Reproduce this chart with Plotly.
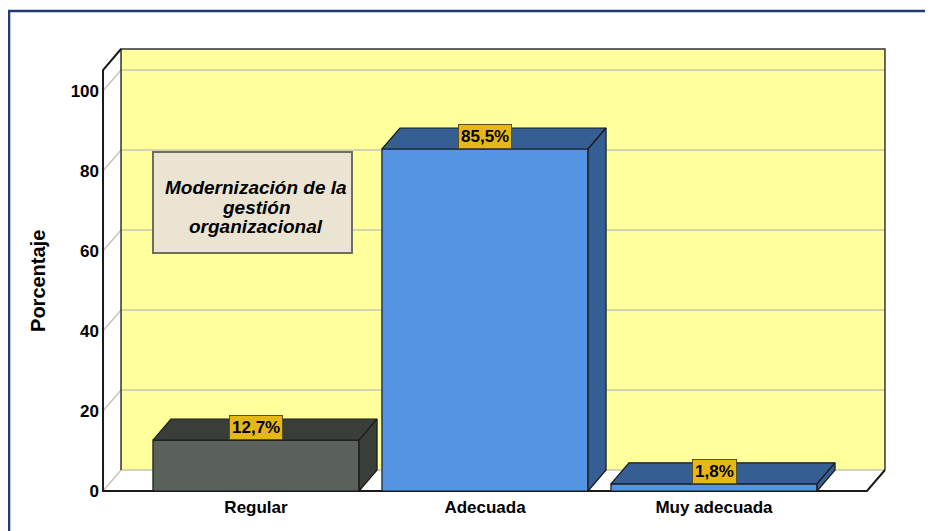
import plotly.graph_objects as go

# datos del gráfico
categorias = ["Regular", "Adecuada", "Muy adecuada"]
porcentajes = [12.7, 85.5, 1.8]
etiquetas = ["12,7%", "85,5%", "1,8%"]
ticks_y = [0, 20, 40, 60, 80, 100]
titulo_nota = ["Modernización de la", "gestión", "organizacional"]

# colores: cara frontal y cara oscura (techo/lado)
color_frente = ["#5A605A", "#5495E3", "#5495E3"]
color_oscuro = ["#393E39", "#355E92", "#355E92"]

# geometría del efecto 3D (en unidades de datos)
ANCHO = 0.9
DX = 0.0786
DY = 5.25
X_IZQ = -0.668
X_DER = 2.668
TOPE_PARED = 105.25

FUENTE = "Liberation Sans, Arial, sans-serif"

fig = go.Figure()

# caras frontales
fig.add_trace(go.Bar(
    x=list(range(len(categorias))), y=porcentajes, width=ANCHO,
    marker=dict(color=color_frente, line=dict(color="#1A1A1A", width=1.2)),
    hoverinfo="skip",
))

# techos y laterales
for i, v in enumerate(porcentajes):
    a, b = i - ANCHO / 2, i + ANCHO / 2
    fig.add_trace(go.Scatter(
        x=[a, a + DX, b + DX, b, a], y=[v, v + DY, v + DY, v, v],
        fill="toself", fillcolor=color_oscuro[i], mode="lines",
        line=dict(color="#1A1A1A", width=1.2), hoverinfo="skip",
    ))
    fig.add_trace(go.Scatter(
        x=[b, b + DX, b + DX, b, b], y=[0, DY, v + DY, v, 0],
        fill="toself", fillcolor=color_oscuro[i], mode="lines",
        line=dict(color="#1A1A1A", width=1.2), hoverinfo="skip",
    ))

shapes = []
# pared del fondo
shapes.append(dict(type="rect", layer="below", xref="x", yref="y",
                   x0=X_IZQ + DX, x1=X_DER + DX, y0=DY, y1=TOPE_PARED + DY,
                   fillcolor="#FFFF9C", line=dict(width=0)))
# suelo
shapes.append(dict(type="path", layer="below", xref="x", yref="y",
                   path=f"M {X_IZQ},0 L {X_DER},0 L {X_DER + DX},{DY} L {X_IZQ + DX},{DY} Z",
                   fillcolor="white", line=dict(width=0)))
# líneas de rejilla
for t in ticks_y:
    shapes.append(dict(type="path", layer="below", xref="x", yref="y",
                       path=f"M {X_IZQ},{t} L {X_IZQ + DX},{t + DY} L {X_DER + DX},{t + DY}",
                       line=dict(color="#C6C6B4", width=1.5)))
# borde de la pared
shapes.append(dict(type="path", layer="below", xref="x", yref="y",
                   path=(f"M {X_IZQ + DX},{DY} L {X_IZQ + DX},{TOPE_PARED + DY} "
                         f"L {X_DER + DX},{TOPE_PARED + DY} L {X_DER + DX},{DY}"),
                   line=dict(color="#333333", width=1.5)))
# eje frontal y borde del suelo
shapes.append(dict(type="path", layer="below", xref="x", yref="y",
                   path=(f"M {X_IZQ + DX},{TOPE_PARED + DY} L {X_IZQ},{TOPE_PARED} "
                         f"L {X_IZQ},0 L {X_DER},0 L {X_DER + DX},{DY}"),
                   line=dict(color="#1A1A1A", width=2)))
# recuadro de la nota
shapes.append(dict(type="rect", xref="x", yref="y",
                   x0=-0.4498, x1=0.4192, y0=59.5, y1=84.75,
                   fillcolor="#EBE4D2", line=dict(color="#6E6E60", width=2)))
# marco exterior
shapes.append(dict(type="rect", xref="paper", yref="paper",
                   x0=-0.1153, x1=1.3, y0=-0.3, y1=1.0756,
                   line=dict(color="#1F3C78", width=2.5)))

annotations = []
for i, (v, txt) in enumerate(zip(porcentajes, etiquetas)):
    annotations.append(dict(
        x=i, y=v, xref="x", yref="y", text=txt, showarrow=False,
        yanchor="bottom", font=dict(family=FUENTE, size=17, color="black", weight="bold"),
        bgcolor="#E6B816", bordercolor="#5E4E18", borderwidth=1, borderpad=2,
    ))
for linea, y in zip(titulo_nota, [76, 71, 66.25]):
    annotations.append(dict(
        x=0, y=y, xref="x", yref="y", text=linea, showarrow=False,
        font=dict(family=FUENTE, size=19, color="black", weight="bold", style="italic"),
    ))
annotations.append(dict(
    x=-0.0786, y=0.4756, xref="paper", yref="paper", text="Porcentaje",
    xanchor="center", yanchor="middle", textangle=-90, showarrow=False,
    font=dict(family=FUENTE, size=20, color="black", weight="bold"),
))

fig.update_layout(
    width=925, height=523,
    margin=dict(l=92, r=44, t=37, b=36),
    paper_bgcolor="white", plot_bgcolor="white",
    showlegend=False, shapes=shapes, annotations=annotations,
    xaxis=dict(range=[-0.6812, 2.7642], tickvals=list(range(len(categorias))),
               ticktext=categorias, showgrid=False, zeroline=False, showline=False,
               tickfont=dict(family=FUENTE, size=17, color="black", weight="bold")),
    yaxis=dict(range=[-1, 111.5], tickvals=ticks_y, showgrid=False, zeroline=False,
               showline=False,
               tickfont=dict(family=FUENTE, size=17, color="black", weight="bold")),
)

fig.write_html("out.html")
